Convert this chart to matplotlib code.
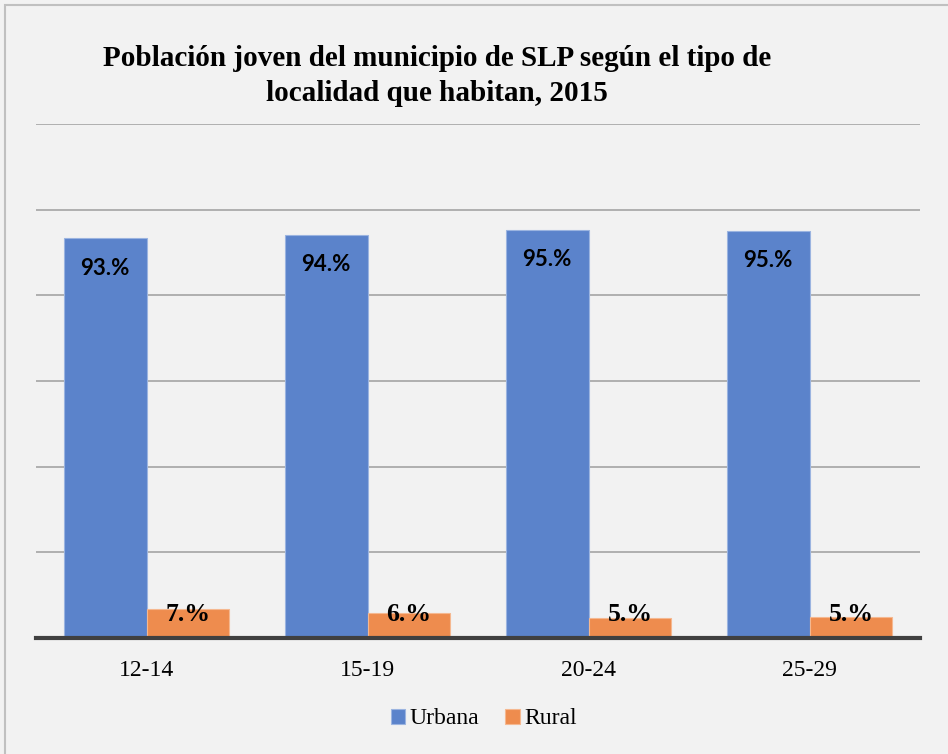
import matplotlib.pyplot as plt
import numpy as np
from matplotlib.patches import Rectangle

categories = ['12-14', '15-19', '20-24', '25-29']
urbana = [93.3, 94.2, 95.3, 95.1]
rural = [6.7, 5.8, 4.7, 4.9]

serif = 'Liberation Serif'
bg = '#f2f2f2'
c_urb = '#5b83cb'
c_rur = '#ee8c4e'

fig = plt.figure(figsize=(9.48, 7.54), dpi=100, facecolor=bg)
# outer frame (only left/top edges visible in the crop)
fig.patches.append(Rectangle((5 / 948, -0.1), 1.2, (1 - 5 / 754) + 0.1, transform=fig.transFigure,
                             fill=False, edgecolor='#c0c0c0', linewidth=1.5))

ax = fig.add_axes([36 / 948, 1 - 638 / 754, 884 / 948, 514 / 754])
ax.set_facecolor(bg)

x = np.arange(len(categories))
w = 0.375
b1 = ax.bar(x - w / 2, urbana, w, color=c_urb, edgecolor='#9bb4e0', linewidth=0.8, label='Urbana', zorder=3)
b2 = ax.bar(x + w / 2, rural, w, color=c_rur, edgecolor='#f5b890', linewidth=0.8, label='Rural', zorder=3)

for xi, v in zip(x, urbana):
    ax.text(xi - w / 2, v - 7.0, f'{v:.0f}.%', ha='center', va='center', fontsize=16,
            fontweight='bold', family='Lato', zorder=4)
# rural labels sit at a fixed height just above the baseline
for xi, v in zip(x, rural):
    ax.text(xi + w / 2, 5.5, f'{v:.0f}.%', ha='center', va='center', fontsize=18.5,
            fontweight='bold', family=serif, zorder=4)

ax.set_xlim(-0.5, 3.5)
ax.set_ylim(0, 120)
ax.set_yticks(np.arange(0, 121, 20))
ax.yaxis.grid(True, color='#aaaaaa', linewidth=1.3, zorder=0)
ax.tick_params(axis='y', left=False, labelleft=False)
ax.tick_params(axis='x', length=0, pad=16)
ax.set_xticks(x)
ax.set_xticklabels(categories, family=serif, fontsize=17)
for s in ['top', 'right', 'left']:
    ax.spines[s].set_visible(False)
ax.spines['bottom'].set_color('#404040')
ax.spines['bottom'].set_linewidth(3)
ax.spines['bottom'].set_zorder(5)

fig.text(437 / 948, 1 - 76 / 754, 'Población joven del municipio de SLP según el tipo de\nlocalidad que habitan, 2015',
         ha='center', va='center', family=serif, fontweight='bold', fontsize=21, linespacing=1.4)

leg = fig.legend(handles=[b1, b2], labels=['Urbana', 'Rural'], loc='center',
                 bbox_to_anchor=(484 / 948, 1 - 719 / 754), ncol=2, frameon=False,
                 prop={'family': serif, 'size': 17}, handlelength=0.6, handleheight=0.6,
                 handletextpad=0.2, columnspacing=1.1)

fig.savefig('out.png', dpi=100, facecolor=bg)
